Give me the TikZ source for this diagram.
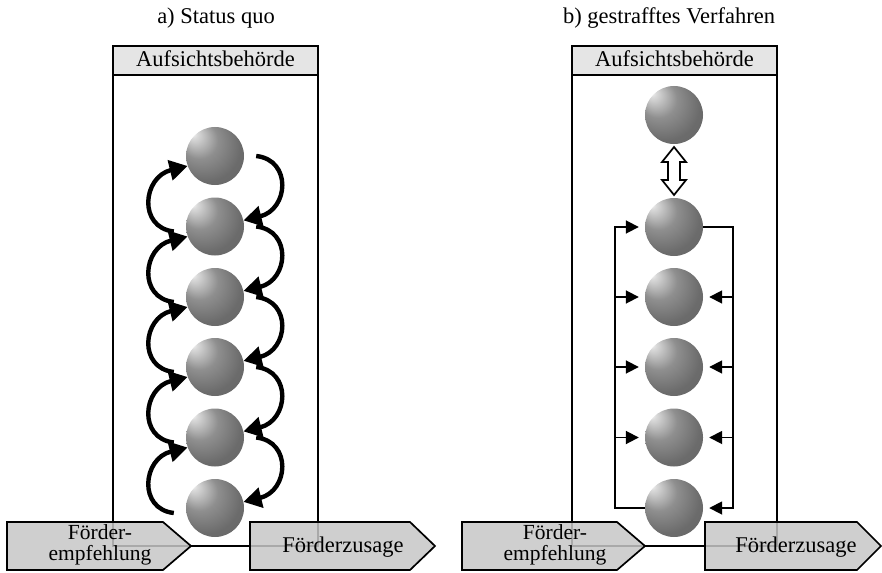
\documentclass[tikz,border=0pt]{standalone}
\usepackage{fontspec}
\setmainfont{Liberation Serif}
\usetikzlibrary{arrows.meta,calc}
\pgfdeclareradialshading{sphereshade}{\pgfpoint{-20bp}{20bp}}{color(0bp)=(white); color(3bp)=(black!14); color(16bp)=(black!44); color(30bp)=(black!58); color(50bp)=(black!61)}
\begin{document}
\begin{tikzpicture}[x=1pt,y=-1pt,
  box/.style={draw, line width=1.7pt},
  hdr/.style={draw, line width=1.7pt, fill=black!10},
  ball/.style={circle, minimum size=58pt, inner sep=0pt, shading=sphereshade},
  swirl/.style={line width=4.4pt, -{Triangle[length=18pt,width=20pt]}},
  feed/.style={line width=1.8pt, line join=miter, -{Triangle[length=13pt,width=13pt]}, shorten >=6pt},
  flow/.style={draw, line width=1.7pt, line join=miter, fill=black!22, fill opacity=0.85},
  lbl/.style={font=\fontsize{22.5}{20}\selectfont, align=center, inner sep=0pt},
  two/.style={font=\fontsize{21.5}{21}\selectfont, align=center, inner sep=0pt},
  dbl/.style={draw, line width=1.7pt, fill=white, line join=miter}]
\useasboundingbox (0,0) rectangle (882,572);

% titles
\node[lbl, anchor=base] (ta) at (216,24) {a) Status quo};
\node[lbl, anchor=base] (tb) at (669,24) {b) gestrafftes Verfahren};

% boxes
\draw[box] (113,46) rectangle (318,546);
\draw[hdr] (113,46) rectangle (318,75);
\node[lbl, anchor=base] (ha) at (215.5,67) {Aufsichtsbehörde};
\draw[box] (572,46) rectangle (777,546);
\draw[hdr] (572,46) rectangle (777,75);
\node[lbl, anchor=base] (hb) at (674.5,67) {Aufsichtsbehörde};

% left spheres
\foreach \i/\y in {1/156,2/226.5,3/297,4/367,5/437.5,6/508}
  \node[ball] (La\i) at (215,\y) {};
% right spheres
\node[ball] (Rb0) at (674,115) {};
\foreach \i/\y in {1/227,2/297,3/367,4/437.5,5/508}
  \node[ball] (Rb\i) at (674,\y) {};

% circular arrows (left panel)
\foreach \i/\j in {1/2,2/3,3/4,4/5,5/6}{
  \draw[swirl] ([xshift=12pt]La\i.east) .. controls +(36,4) and +(45,-11) .. (La\j.12);
  \draw[swirl] ([xshift=-12pt,yshift=-5pt]La\j.west) .. controls +(-36,-4) and +(-45,11) .. (La\i.200);
}

% right panel: double arrow
\coordinate (mid) at ($(Rb0.south)!0.5!(Rb1.north)$);
\draw[dbl] (mid) ++(0,-24) -- ++(12,15) -- ++(-6,0) -- ++(0,18) -- ++(6,0) -- ++(-12,15)
  -- ++(-12,-15) -- ++(6,0) -- ++(0,-18) -- ++(-6,0) -- cycle;

% right panel: loop lines
\coordinate (lx) at (615,0);
\coordinate (rx) at (733,0);
\draw[feed] (Rb5.west) -- (Rb5.west -| lx) -- (Rb1.west -| lx) -- (Rb1.west);
\draw[feed] (Rb1.east) -- (Rb1.east -| rx) -- (Rb5.east -| rx) -- (Rb5.east);
\foreach \i in {2,3,4}{
  \draw[feed] (Rb\i.west -| lx) -- (Rb\i.west);
  \draw[feed] (Rb\i.east -| rx) -- (Rb\i.east);
}

% bottom process arrows
\draw[flow] (7,522) -- (163,522) -- (191,546) -- (163,570) -- (7,570) -- cycle;
\node[two] (fe1) at (100,545) {Förder-\\empfehlung};
\draw[flow] (250,522) -- (410,522) -- (435,546) -- (410,570) -- (250,570) -- cycle;
\node[lbl, anchor=base] (fz1) at (343,552) {Förderzusage};

\draw[flow] (462,522) -- (617,522) -- (645,546) -- (617,570) -- (462,570) -- cycle;
\node[two] (fe2) at (555,545) {Förder-\\empfehlung};
\draw[flow] (705,522) -- (857,522) -- (881,546) -- (857,570) -- (705,570) -- cycle;
\node[lbl, anchor=base] (fz2) at (796,552) {Förderzusage};
\end{tikzpicture}
\end{document}
